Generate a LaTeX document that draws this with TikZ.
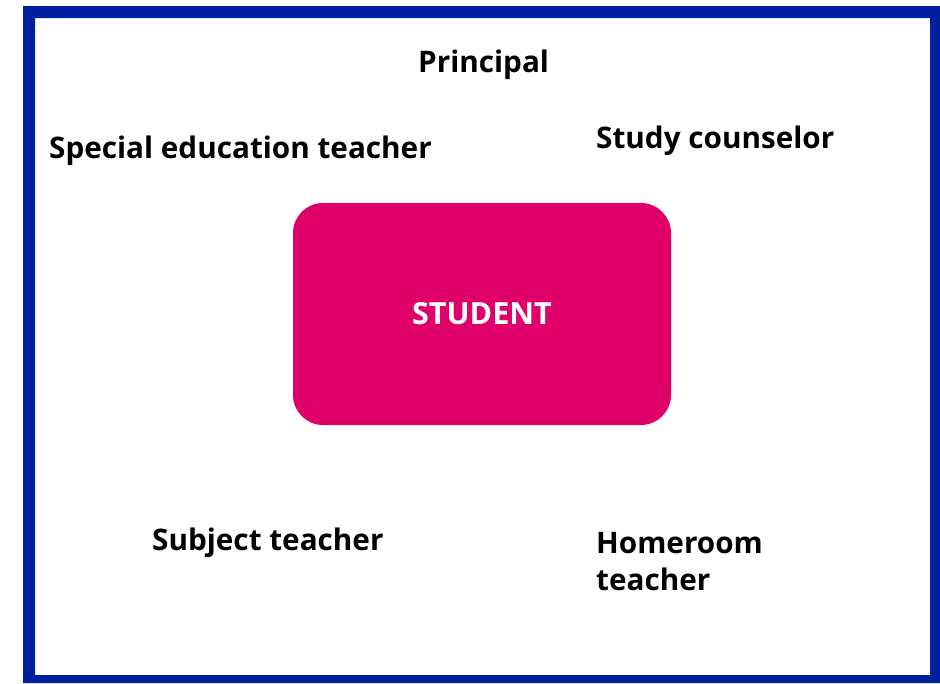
\documentclass[tikz,border=0pt]{standalone}
\usepackage{fontspec}
\setmainfont{Open Sans}
\usetikzlibrary{positioning}
\definecolor{frameblue}{HTML}{00209F}
\definecolor{studentpink}{HTML}{E0006A}
\begin{document}
\begin{tikzpicture}
[x=1pt, y=-1pt,
role/.style={anchor=west, inner sep=0pt, font=\fontsize{29.7}{37}\selectfont\bfseries, align=left},
centre/.style={rectangle, rounded corners=30pt, fill=studentpink, minimum width=378pt, minimum height=222pt, text=white, font=\fontsize{30.5}{37}\selectfont\bfseries}
]
\useasboundingbox (0,0) rectangle (940,683);

% frame
\fill[frameblue,even odd rule] (23,6) rectangle (940,683) (35,18) rectangle (930,675);

\node[centre] (student) at (482,314) {STUDENT};

\node[role] (principal) at (418,65) {Principal};
\node[role] (special) at (49,151) {Special education teacher};
\node[role] (counselor) at (596,141) {Study counselor};
\node[role] (subject) at (152,543) {Subject teacher};
\node[role] (homeroom) at (596,562) {Homeroom\\teacher};
\end{tikzpicture}
\end{document}
